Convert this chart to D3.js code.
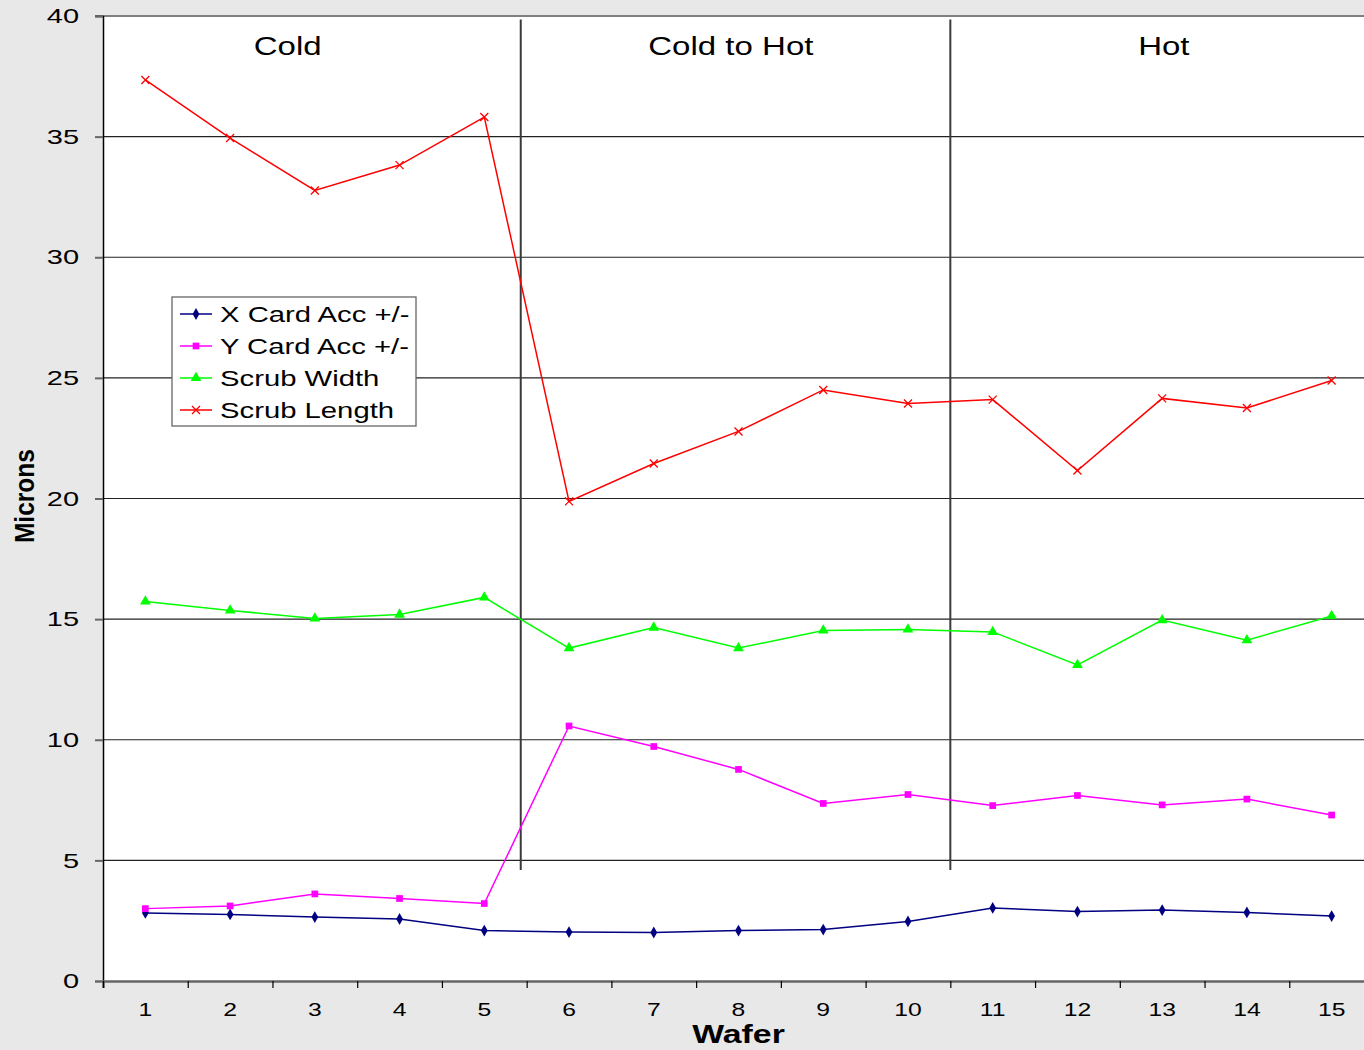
<!DOCTYPE html>
<html>
<head>
<meta charset="utf-8">
<script src="https://cdn.jsdelivr.net/npm/d3@7"></script>
<style>
  html, body { margin: 0; padding: 0; background: #e8e8e8; }
  svg { display: block; }
  text { font-family: "Liberation Sans", Arial, sans-serif; fill: #000; }
</style>
</head>
<body>
<svg id="chart" width="1364" height="1050"></svg>
<script>
// Wafer numbers along the x axis
const wafers = [1, 2, 3, 4, 5, 6, 7, 8, 9, 10, 11, 12, 13, 14, 15];

// Measurements in microns per wafer
const xCardAcc    = [2.82, 2.76, 2.65, 2.57, 2.09, 2.03, 2.01, 2.09, 2.13, 2.47, 3.03, 2.88, 2.94, 2.84, 2.69];
const yCardAcc    = [3.00, 3.11, 3.61, 3.42, 3.21, 10.57, 9.72, 8.77, 7.36, 7.73, 7.27, 7.69, 7.30, 7.54, 6.88];
const scrubWidth  = [15.73, 15.36, 15.03, 15.19, 15.90, 13.80, 14.65, 13.80, 14.53, 14.57, 14.47, 13.10, 14.96, 14.13, 15.13];
const scrubLength = [37.35, 34.94, 32.77, 33.82, 35.81, 19.88, 21.45, 22.78, 24.50, 23.94, 24.10, 21.16, 24.15, 23.75, 24.89];

const seriesNames = ["X Card Acc +/-", "Y Card Acc +/-", "Scrub Width", "Scrub Length"];
const yTicks = [0, 5, 10, 15, 20, 25, 30, 35, 40];

// Temperature phases: label, label position and divider position (in wafer units)
const phaseLabels = ["Cold", "Cold to Hot", "Hot"];
const phaseLabelPos = [2.68, 7.91, 13.02];
const phaseDividers = [5.43, 10.5];

const svg = d3.select("#chart");
const margin = { left: 103, top: 16, bottom: 981 };
const plotRight = 1374;

const x = d3.scaleLinear().domain([0.5, 15.5]).range([margin.left, plotRight]);
const y = d3.scaleLinear().domain([0, 40]).range([margin.bottom, margin.top]);

// Stretch text horizontally to a wide sans look
function widen(sel, factor) {
  sel.each(function () {
    const w = this.getComputedTextLength();
    d3.select(this).attr("textLength", w * factor).attr("lengthAdjust", "spacingAndGlyphs");
  });
}

// Plot background
svg.append("rect")
  .attr("x", margin.left).attr("y", margin.top)
  .attr("width", plotRight - margin.left).attr("height", margin.bottom - margin.top)
  .attr("fill", "#fff");

// Horizontal gridlines
svg.append("g")
  .selectAll("line")
  .data(yTicks.filter(d => d > 0 && d < 40))
  .join("line")
  .attr("x1", margin.left).attr("x2", plotRight)
  .attr("y1", d => y(d)).attr("y2", d => y(d))
  .attr("stroke", "#222").attr("stroke-width", 1.2);

// Top frame line
svg.append("line")
  .attr("x1", 95).attr("x2", plotRight)
  .attr("y1", y(40)).attr("y2", y(40))
  .attr("stroke", "#808080").attr("stroke-width", 2);

// Phase dividers
svg.append("g")
  .selectAll("line")
  .data(phaseDividers)
  .join("line")
  .attr("x1", d => x(d)).attr("x2", d => x(d))
  .attr("y1", y(39.85)).attr("y2", y(4.6))
  .attr("stroke", "#3a3a3a").attr("stroke-width", 2);

// Phase labels
svg.append("g")
  .selectAll("text")
  .data(phaseLabels)
  .join("text")
  .attr("x", (d, i) => x(phaseLabelPos[i]))
  .attr("y", 55)
  .attr("text-anchor", "middle")
  .attr("font-size", 26)
  .text(d => d)
  .call(widen, 1.27);

// Y axis
const yAxis = svg.append("g")
  .attr("transform", `translate(${margin.left},0)`)
  .call(d3.axisLeft(y).tickValues(yTicks).tickSize(8).tickPadding(16));
yAxis.select(".domain").attr("stroke", "#000").attr("stroke-width", 1.5);
yAxis.selectAll(".tick line").attr("stroke", "#666").attr("stroke-width", 2);
yAxis.selectAll(".tick text")
  .attr("font-size", 21)
  .attr("font-family", "'Liberation Sans', Arial, sans-serif")
  .attr("fill", "#000")
  .call(widen, 1.38);

// X axis
const xAxis = svg.append("g")
  .attr("transform", `translate(0,${margin.bottom})`)
  .call(d3.axisBottom(x).tickValues(d3.range(0.5, 15.5, 1)).tickSize(7).tickFormat(""));
xAxis.select(".domain").attr("stroke", "#666").attr("stroke-width", 2.5);
xAxis.selectAll(".tick line").attr("stroke", "#000").attr("stroke-width", 1.2);

// X category labels
svg.append("g")
  .selectAll("text")
  .data(wafers)
  .join("text")
  .attr("x", d => x(d))
  .attr("y", 1016)
  .attr("text-anchor", "middle")
  .attr("font-size", 19)
  .text(d => d)
  .call(widen, 1.3);

// Axis titles
svg.append("text")
  .attr("x", x(8)).attr("y", 1043)
  .attr("text-anchor", "middle")
  .attr("font-size", 26).attr("font-weight", "bold")
  .text("Wafer")
  .call(widen, 1.3);

svg.append("text")
  .attr("transform", `translate(34,${y(20.1)}) rotate(-90)`)
  .attr("text-anchor", "middle")
  .attr("font-size", 28).attr("font-weight", "bold")
  .attr("textLength", 94).attr("lengthAdjust", "spacingAndGlyphs")
  .text("Microns");

// Series drawing
const colors = ["#000080", "#ff00ff", "#00ff00", "#ff0000"];
const values = [xCardAcc, yCardAcc, scrubWidth, scrubLength];
const symbols = [
  d3.symbol().type(d3.symbolDiamond).size(40),
  d3.symbol().type(d3.symbolSquare).size(45),
  d3.symbol().type(d3.symbolTriangle).size(50),
  null
];

function drawMarker(g, i, cx, cy) {
  if (i === 3) {
    const s = 4;
    g.append("path")
      .attr("d", `M${cx - s},${cy - s}L${cx + s},${cy + s}M${cx - s},${cy + s}L${cx + s},${cy - s}`)
      .attr("stroke", colors[i]).attr("stroke-width", 1.3).attr("fill", "none");
  } else {
    g.append("path")
      .attr("d", symbols[i]())
      .attr("transform", `translate(${cx},${cy})`)
      .attr("fill", colors[i]);
  }
}

const line = d3.line().x((d, i) => x(wafers[i])).y(d => y(d));

values.forEach((vals, i) => {
  const g = svg.append("g");
  g.append("path")
    .datum(vals)
    .attr("d", line)
    .attr("fill", "none")
    .attr("stroke", colors[i])
    .attr("stroke-width", 1.5);
  vals.forEach((v, j) => drawMarker(g, i, x(wafers[j]), y(v)));
});

// Legend
const legend = svg.append("g");
legend.append("rect")
  .attr("x", 172).attr("y", 297)
  .attr("width", 244).attr("height", 129)
  .attr("fill", "#fff")
  .attr("stroke", "#666").attr("stroke-width", 1.3);

seriesNames.forEach((name, i) => {
  const cy = 314 + i * 32;
  legend.append("line")
    .attr("x1", 180).attr("x2", 212)
    .attr("y1", cy).attr("y2", cy)
    .attr("stroke", colors[i]).attr("stroke-width", 1.5);
  drawMarker(legend, i, 196, cy);
  legend.append("text")
    .attr("x", 220).attr("y", cy + 8)
    .attr("font-size", 22)
    .text(name)
    .call(widen, 1.33);
});
</script>
</body>
</html>
